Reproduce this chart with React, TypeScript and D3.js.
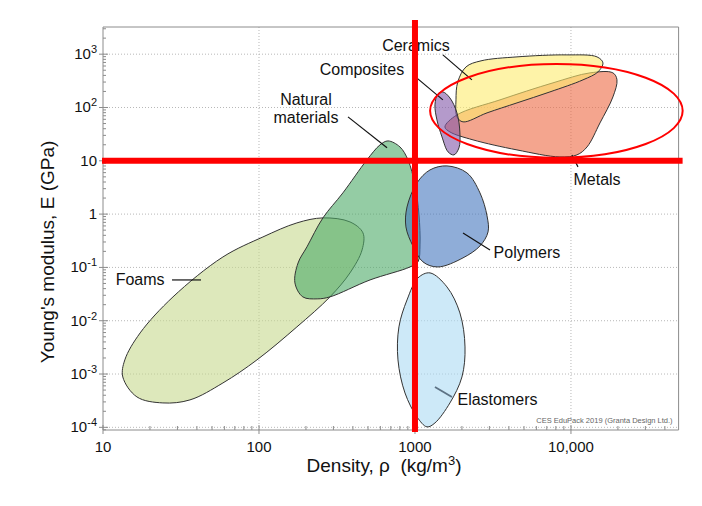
import React from 'react';
import * as d3 from 'd3';

const W = 702;
const H = 506;

// axis ticks
const xMajor = [10, 100, 1000, 10000];
const xMajorLabels = ['10', '100', '1000', '10,000'];
const yMajorExp = [-4, -3, -2, -1, 0, 1, 2, 3];

// material envelopes: [density kg/m3, modulus GPa]
const foams: [number, number][] = [
  [13.8, 0.00184], [17.3, 0.0059], [28.1, 0.028], [58.7, 0.157], [106, 0.373], [175, 0.684],
  [257, 0.849], [383, 0.714], [464, 0.444], [458, 0.213], [383, 0.0789], [285, 0.028],
  [175, 0.00766], [97, 0.00184], [58.7, 0.00068], [36.1, 0.000327], [24.2, 0.000287],
  [16.5, 0.000372], [13.4, 0.00088],
];
const natural: [number, number][] = [
  [671, 23.6], [801, 18.2], [902, 10.4], [1000, 3.53], [1061, 0.966], [1077, 0.264],
  [1045, 0.127], [929, 0.102], [515, 0.0582], [285, 0.028], [236, 0.0257], [191, 0.028],
  [170, 0.0512], [178, 0.121], [203, 0.243], [257, 0.849], [345, 2.5], [492, 10.4], [597, 19.9],
];
const polymers: [number, number][] = [
  [1603, 8.02], [2154, 5.93], [2610, 2.5], [2897, 0.924], [2940, 0.463], [2610, 0.253],
  [2032, 0.151], [1403, 0.102], [1125, 0.127], [970, 0.253], [875, 0.575], [889, 1.36],
  [1030, 3.85], [1248, 6.74],
];
const elastomers: [number, number][] = [
  [1248, 0.0789], [1603, 0.0431], [1941, 0.014], [2093, 0.00322], [2000, 0.00088],
  [1675, 0.000287], [1343, 0.000121], [1194, 0.000102], [1030, 0.000157], [863, 0.000441],
  [778, 0.00184], [789, 0.00766], [889, 0.0245], [1045, 0.0635],
];
const metals: [number, number][] = [
  [1556, 43.2], [1858, 72.6], [3508, 139], [7670, 290], [13240, 446], [18580, 446],
  [19720, 330], [18580, 158], [15350, 51.4], [12680, 18.2], [10920, 12.9], [8490, 11.8],
  [4508, 16.0], [2355, 24.7], [1675, 34.8],
];
const ceramics: [number, number][] = [
  [2125, 578], [2650, 750], [4508, 890], [9420, 970], [14690, 890], [16030, 687],
  [14900, 466], [11940, 330], [7330, 196], [4508, 122], [2897, 79.3], [2032, 53.7],
  [1858, 66.7], [1832, 139], [1880, 300],
];
const composites: [number, number][] = [
  [1510, 196], [1675, 151], [1858, 79.3], [1941, 33.3], [1914, 17.5], [1778, 12.9],
  [1630, 14.7], [1490, 28.1], [1383, 58.5], [1343, 112], [1403, 180],
];

const envelopes = [foams, natural, polymers, elastomers, metals, ceramics, composites];
const envelopeFills = ['#c6d98e', '#4daa67', '#4476be', '#acdaf3', '#ed6943', '#fdeb6e', '#8257a8'];

// labels: text lines, text centre, leader start, leader end
const labelTexts = [['Ceramics'], ['Composites'], ['Natural', 'materials'], ['Metals'], ['Polymers'], ['Elastomers'], ['Foams']];
const labelPos: [number, number][] = [
  [1014, 1430], [457, 507], [200, 94.2], [14690, 4.39], [5220, 0.187], [3381, 0.000327], [17.3, 0.0582],
];
const leaderFrom: [number, number][] = [
  [1510, 970], [1030, 355], [372, 66.7], [10140, 12.9], [2032, 0.444], [1343, 0.000573], [27.7, 0.0582],
];
const leaderTo: [number, number][] = [
  [2317, 330], [1510, 139], [662, 17.5], [11090, 7.69], [3027, 0.213], [1726, 0.000372], [42.5, 0.0582],
];
const leaderColors = ['#111', '#111', '#111', '#111', '#111', '#5d7284', '#111'];

// red annotations
const refDensity = 1000;
const refModulus = 10;
const ellipseX: [number, number] = [1250, 52000];
const ellipseY: [number, number] = [11.4, 655];

const credit = 'CES EduPack 2019 (Granta Design Ltd.)';
const FONT = '"Liberation Sans", Arial, sans-serif';

export default function App() {
  const x = d3.scaleLog().domain([10, Math.pow(10, 4.69)]).range([103, 678.6]);
  const y = d3.scaleLog().domain([Math.pow(10, -4.05), Math.pow(10, 3.51)]).range([430, 27]);
  const [x0, x1] = x.range();
  const [y0, y1] = y.range();

  const line = d3
    .line<[number, number]>()
    .x((d) => x(d[0]))
    .y((d) => y(d[1]))
    .curve(d3.curveCatmullRomClosed.alpha(0.5));

  const xMinor: number[] = [];
  for (let e = 1; e <= 4; e++) for (let m = 2; m <= 9; m++) {
    const v = m * Math.pow(10, e);
    if (v <= x.domain()[1]) xMinor.push(v);
  }
  const yMinor: number[] = [];
  for (let e = -5; e <= 3; e++) for (let m = 2; m <= 9; m++) {
    const v = m * Math.pow(10, e);
    if (v >= y.domain()[0] && v <= y.domain()[1]) yMinor.push(v);
  }

  const ecx = (x(ellipseX[0]) + x(ellipseX[1])) / 2;
  const erx = (x(ellipseX[1]) - x(ellipseX[0])) / 2;
  const ecy = (y(ellipseY[0]) + y(ellipseY[1])) / 2;
  const ery = (y(ellipseY[0]) - y(ellipseY[1])) / 2;

  return (
    <svg width={W} height={H} style={{ position: 'absolute', left: 0, top: 0, background: '#fff' }} fontFamily={FONT}>
      <rect x={0} y={0} width={W} height={H} fill="#fff" />
      {/* grid */}
      {xMajor.slice(1).map((v) => (
        <line key={'gx' + v} x1={x(v)} x2={x(v)} y1={y1} y2={y0} stroke="#b8b8b8" strokeDasharray="1 2" strokeWidth={1} />
      ))}
      {yMajorExp.map((e) => (
        <line key={'gy' + e} x1={x0} x2={x1} y1={y(Math.pow(10, e))} y2={y(Math.pow(10, e))} stroke="#b8b8b8" strokeDasharray="1 2" strokeWidth={1} />
      ))}
      {/* envelopes */}
      {envelopes.map((pts, i) => (
        <path key={'env' + i} d={line(pts) || ''} fill={envelopeFills[i]} fillOpacity={0.6} stroke="#333" strokeWidth={1} />
      ))}
      {/* frame */}
      <line x1={x0} x2={x1} y1={y1} y2={y1} stroke="#8c8c8c" />
      <line x1={x1} x2={x1} y1={y1} y2={y0} stroke="#8c8c8c" />
      <line x1={x0} x2={x1} y1={y0} y2={y0} stroke="#8c8c8c" />
      <line x1={x0} x2={x0} y1={y1} y2={y0} stroke="#8c8c8c" />
      {/* x ticks */}
      {xMinor.map((v) => (
        <line key={'xm' + v} x1={x(v)} x2={x(v)} y1={y0} y2={y0 - 4} stroke="#8c8c8c" />
      ))}
      {xMajor.map((v, i) => (
        <g key={'xM' + v}>
          <line x1={x(v)} x2={x(v)} y1={y0 + 4} y2={y0 - 5} stroke="#8c8c8c" />
          <text x={x(v)} y={y0 + 22} textAnchor="middle" fontSize={15} fill="#111">{xMajorLabels[i]}</text>
        </g>
      ))}
      {/* y ticks */}
      {yMinor.map((v) => (
        <line key={'ym' + v} x1={x0} x2={x0 + 3} y1={y(v)} y2={y(v)} stroke="#8c8c8c" />
      ))}
      {yMajorExp.map((e) => {
        const yy = y(Math.pow(10, e));
        return (
          <g key={'yM' + e}>
            <line x1={x0 - 4} x2={x0 + 5} y1={yy} y2={yy} stroke="#8c8c8c" />
            <text x={97} y={yy + 5} textAnchor="end" fontSize={15} fill="#111">
              {e === 0 ? '1' : e === 1 ? '10' : (
                <>
                  10<tspan fontSize={11} dy={-6}>{String(e)}</tspan>
                </>
              )}
            </text>
          </g>
        );
      })}
      {/* axis titles */}
      <text x={384} y={472} textAnchor="middle" fontSize={19} fill="#111">
        {'Density, ρ\u00a0\u00a0(kg/m'}<tspan fontSize={13} dy={-7}>3</tspan><tspan dy={7}>)</tspan>
      </text>
      <text transform={`translate(54,252) rotate(-90)`} textAnchor="middle" fontSize={19} fill="#111">
        Young's modulus, E (GPa)
      </text>
      {/* leaders + labels */}
      {labelTexts.map((lines, i) => {
        const cx = x(labelPos[i][0]);
        const cy = y(labelPos[i][1]);
        const gap = 18;
        return (
          <g key={'lab' + i}>
            <line x1={x(leaderFrom[i][0])} y1={y(leaderFrom[i][1])} x2={x(leaderTo[i][0])} y2={y(leaderTo[i][1])}
              stroke={leaderColors[i]} strokeWidth={i === 5 ? 1.8 : 1.2} />
            {lines.map((l, j) => (
              <text key={j} x={cx} y={cy + (j - (lines.length - 1) / 2) * gap + 5.5} textAnchor="middle" fontSize={16} fill="#111">{l}</text>
            ))}
          </g>
        );
      })}
      <text x={x1 - 6} y={y0 - 7} textAnchor="end" fontSize={7.5} fill="#666">{credit}</text>
      {/* red annotations */}
      <ellipse cx={ecx} cy={ecy} rx={erx} ry={ery} fill="none" stroke="#f00" strokeWidth={2} />
      <line x1={x0 - 1} x2={x1 + 4} y1={y(refModulus)} y2={y(refModulus)} stroke="#f00" strokeWidth={6} />
      <line x1={x(refDensity)} x2={x(refDensity)} y1={y1 - 7} y2={y0 + 2} stroke="#f00" strokeWidth={6} />
    </svg>
  );
}
